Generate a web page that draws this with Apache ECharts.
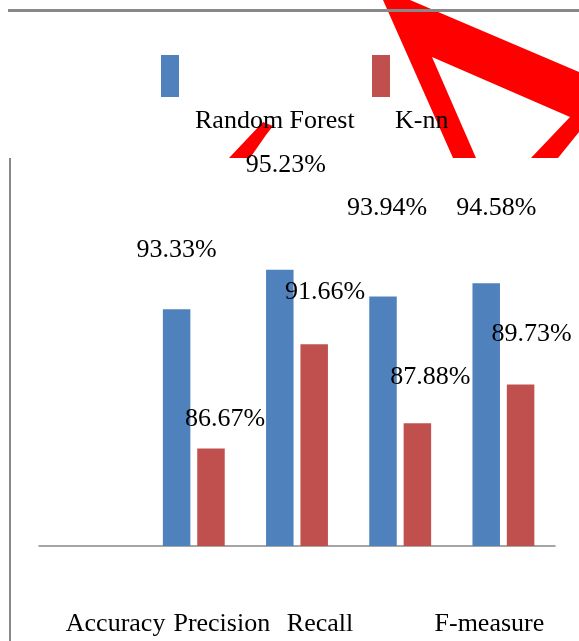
<!DOCTYPE html>
<html>
<head>
<meta charset="utf-8">
<script src="https://cdn.jsdelivr.net/npm/echarts@6/dist/echarts.min.js"></script>
<style>
	html,body{margin:0;padding:0;background:#fff;}
	#chart{width:579px;height:641px;}
</style>
</head>
<body>
<div id="chart"></div>
<script>
	var categories = ["Accuracy","Precision","Recall","","F-measure"];
	var seriesNames = ["Random Forest","K-nn"];
	var rfValues = [null,93.33,95.23,93.94,94.58];
	var knnValues = [null,86.67,91.66,87.88,89.73];

	// the labels of the original sit off their bars, moved by hand
	var categoryShift = [25,28,23,0,-14];
	var rfLabelShift = [null,[0,-39],[6,-84],[4,-68],[10,-55]];
	var knnLabelShift = [null,[14,-9],[11,-32],[13,-26],[11,-30]];

	var font = "'Liberation Serif','Times New Roman',serif";
	var blue = "#4F81BD";
	var red = "#C0504D";

	function axisData(){
		var list = [];
		for(var i=0;i<categories.length;i++){
			var s = categoryShift[i];
			list.push({
				value:categories[i],
				textStyle:{padding:s>=0?[0,0,0,2*s]:[0,-2*s,0,0]}
			});
		}
		return list;
	}
	function barData(values,shift){
		var list = [];
		for(var i=0;i<values.length;i++){
			if(values[i]==null){
				list.push(null);
			}else{
				list.push({value:values[i],label:{offset:shift[i]}});
			}
		}
		return list;
	}
	function legend(name,left,padLeft){
		return {
			data:[name],
			left:left,
			top:16,
			padding:0,
			icon:"rect",
			itemWidth:18,
			itemHeight:42,
			// name goes under the swatch, as in the original
			formatter:function(n){return "\n\n\n"+n;},
			textStyle:{fontFamily:font,fontSize:26,color:"#000",lineHeight:30,padding:[0,0,0,padLeft]}
		};
	}

	var chart = echarts.init(document.getElementById("chart"));
	chart.setOption({
		animation:false,
		backgroundColor:"#fff",
		color:[blue,red],
		legend:[legend(seriesNames[0],161,11),legend(seriesNames[1],372,0)],
		grid:{left:39,right:24,top:170,bottom:95,containLabel:false},
		xAxis:{
			type:"category",
			data:axisData(),
			axisLine:{lineStyle:{color:"#888",width:1.5}},
			axisTick:{show:false},
			axisLabel:{fontFamily:font,fontSize:26,color:"#000",margin:65,interval:0}
		},
		yAxis:{
			type:"value",
			min:82,
			max:100,
			show:false,
			splitLine:{show:false}
		},
		graphic:[
			{
				type:"polygon",z:0,
				shape:{points:[[383,0],[453,158],[476,158],[432,57],[570,117],[531,158],[558,158],[579,132],[579,72],[410,0]]},
				style:{fill:"#ff0000"}
			},
			{
				type:"polygon",z:0,
				shape:{points:[[229,158],[263,122],[273,126],[266,135],[250,158]]},
				style:{fill:"#ff0000"}
			},
			{
				type:"line",z:1,
				shape:{x1:8,y1:10.5,x2:579,y2:10.5},
				style:{stroke:"#888",lineWidth:3}
			},
			{
				type:"line",z:1,
				shape:{x1:10,y1:158,x2:10,y2:641},
				style:{stroke:"#888",lineWidth:2}
			}
		],
		series:[
			{
				name:seriesNames[0],
				type:"bar",
				barWidth:27.5,
				barGap:"25%",
				data:barData(rfValues,rfLabelShift),
				label:{
					show:true,position:"top",fontFamily:font,fontSize:26,color:"#000",lineHeight:30,
					formatter:function(p){return p.value.toFixed(2)+"%";}
				}
			},
			{
				name:seriesNames[1],
				type:"bar",
				barWidth:27.5,
				barGap:"25%",
				data:barData(knnValues,knnLabelShift),
				label:{
					show:true,position:"top",fontFamily:font,fontSize:26,color:"#000",lineHeight:30,
					formatter:function(p){return p.value.toFixed(2)+"%";}
				}
			}
		]
	});
</script>
</body>
</html>
